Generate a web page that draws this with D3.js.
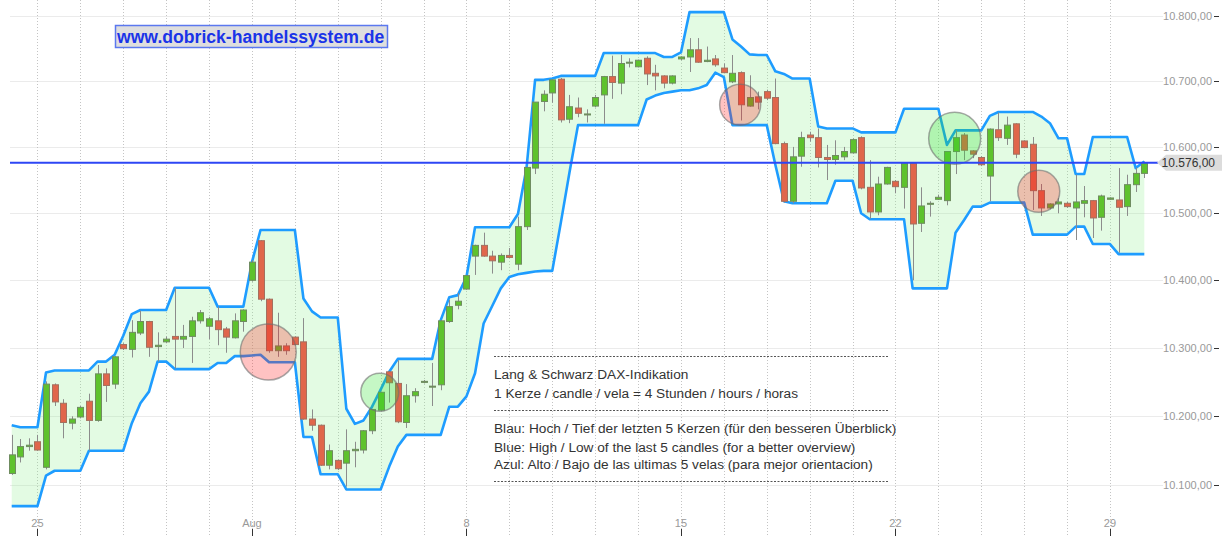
<!DOCTYPE html>
<html>
<head>
<meta charset="utf-8">
<script src="https://cdn.jsdelivr.net/npm/d3@7"></script>
<style>
body { margin: 0; background: #fff; }
svg { display: block; font-family: "Liberation Sans", Arial, sans-serif; }
</style>
</head>
<body>
<div id="chart"></div>
<script>
// 4h candles, Lang & Schwarz DAX indication (Jul 22 - Aug 29)
var open = [10117,10141,10156,10163,10126,10246,10219,10190,10199,10222,
  10194,10262,10247,10305,10298,10322,10339,10302,10309,10317,
  10313,10317,10340,10332,10340,10328,10315,10339,10400,10459,
  10372,10296,10303,10316,10309,10196,10187,10129,10136,10132,
  10150,10151,10179,10209,10265,10248,10191,10230,10250,10243,
  10246,10339,10363,10387,10436,10452,10436,10427,10437,10424,
  10480,10568,10669,10682,10703,10642,10659,10649,10662,10679,
  10707,10697,10728,10722,10735,10712,10708,10697,10734,10737,
  10748,10730,10734,10720,10699,10713,10662,10676,10684,10675,
  10605,10518,10586,10618,10614,10584,10581,10585,10591,10614,
  10539,10502,10544,10548,10539,10575,10485,10514,10521,10519,
  10593,10618,10594,10584,10556,10626,10613,10635,10609,10604,
  10534,10508,10514,10515,10508,10515,10519,10494,10521,10520,
  10510,10543,10560];
var high = [10173,10167,10168,10173,10251,10248,10225,10200,10215,10233,
  10275,10270,10288,10307,10341,10355,10340,10323,10317,10389,
  10334,10346,10356,10346,10361,10331,10351,10357,10430,10460,
  10373,10352,10307,10317,10344,10210,10188,10159,10137,10181,
  10163,10180,10210,10236,10266,10282,10247,10241,10253,10278,
  10341,10371,10381,10408,10453,10471,10444,10440,10448,10495,
  10570,10668,10686,10703,10705,10679,10675,10657,10679,10708,
  10739,10740,10735,10733,10738,10725,10709,10709,10738,10766,
  10766,10753,10740,10727,10740,10715,10709,10684,10687,10704,
  10608,10600,10623,10623,10628,10603,10610,10600,10613,10616,
  10580,10555,10570,10550,10576,10576,10539,10518,10528,10593,
  10625,10621,10595,10586,10628,10652,10646,10636,10610,10615,
  10544,10515,10523,10517,10558,10541,10520,10528,10524,10568,
  10558,10569,10578];
var low = [10115,10133,10150,10150,10123,10215,10168,10181,10197,10150,
  10192,10221,10240,10297,10286,10319,10287,10280,10307,10270,
  10300,10278,10336,10313,10304,10293,10314,10324,10398,10369,
  10293,10287,10290,10304,10195,10179,10128,10123,10122,10098,
  10126,10146,10174,10208,10220,10190,10183,10220,10248,10215,
  10238,10337,10357,10386,10408,10435,10410,10415,10433,10415,
  10475,10559,10654,10667,10637,10636,10645,10637,10660,10635,
  10673,10680,10721,10721,10694,10686,10689,10695,10732,10714,
  10728,10729,10722,10712,10697,10640,10661,10657,10671,10604,
  10516,10515,10570,10608,10569,10550,10573,10580,10590,10536,
  10492,10497,10543,10530,10507,10400,10472,10495,10520,10512,
  10559,10580,10583,10571,10518,10609,10603,10583,10598,10505,
  10496,10506,10500,10508,10460,10494,10463,10474,10520,10441,
  10496,10532,10553];
var close = [10144,10156,10158,10151,10247,10221,10191,10196,10213,10194,
  10262,10245,10287,10299,10323,10339,10301,10304,10313,10313,
  10317,10340,10352,10343,10327,10316,10340,10356,10427,10372,
  10296,10303,10296,10305,10196,10187,10129,10150,10124,10150,
  10152,10179,10210,10235,10249,10192,10230,10236,10251,10244,
  10340,10361,10369,10407,10452,10436,10429,10437,10434,10480,
  10569,10668,10680,10702,10641,10661,10651,10650,10675,10707,
  10698,10727,10729,10732,10711,10708,10697,10708,10737,10748,
  10729,10732,10725,10713,10712,10664,10675,10668,10674,10605,
  10518,10585,10614,10614,10584,10581,10587,10593,10611,10538,
  10502,10544,10569,10540,10575,10484,10511,10515,10524,10593,
  10614,10595,10589,10573,10627,10614,10633,10589,10599,10534,
  10508,10514,10517,10510,10517,10519,10493,10526,10523,10509,
  10543,10560,10576];

// blue channel: high / low of the last 5 candles, as drawn
var upper = [10187,10184,10184,10184,10264,10267,10267,10267,10267,10267,
  10280,10280,10290,10318,10350,10356,10356,10356,10356,10389,
  10389,10389,10389,10389,10361,10361,10361,10361,10427,10475,
  10475,10475,10475,10475,10373,10354,10345,10345,10345,10211,
  10189,10194,10214,10239,10265,10284,10284,10284,10284,10284,
  10341,10375,10378,10405,10479,10479,10479,10479,10479,10499,
  10568,10702,10702,10704,10708,10708,10708,10708,10708,10743,
  10743,10743,10743,10743,10743,10743,10737,10737,10744,10806,
  10806,10806,10806,10806,10764,10753,10741,10740,10740,10715,
  10711,10704,10704,10704,10631,10628,10628,10628,10628,10622,
  10622,10622,10622,10622,10658,10658,10658,10658,10658,10603,
  10625,10625,10625,10625,10647,10653,10653,10653,10653,10653,
  10646,10636,10613,10613,10559,10559,10615,10615,10615,10615,
  10615,10568,10578];
var lower = [10070,10070,10070,10070,10114,10121,10121,10121,10121,10150,
  10150,10150,10150,10150,10190,10219,10236,10280,10280,10269,
  10269,10269,10269,10269,10278,10278,10288,10288,10289,10290,
  10279,10279,10279,10279,10170,10170,10116,10116,10116,10094,
  10094,10094,10094,10094,10127,10156,10173,10173,10173,10173,
  10173,10214,10214,10229,10263,10336,10362,10388,10405,10409,
  10411,10413,10414,10414,10486,10561,10633,10633,10633,10633,
  10633,10633,10633,10633,10672,10678,10682,10684,10686,10686,
  10689,10694,10713,10706,10633,10633,10633,10633,10633,10573,
  10518,10515,10515,10515,10515,10515,10549,10549,10549,10500,
  10491,10491,10491,10491,10491,10388,10388,10388,10388,10388,
  10471,10490,10510,10510,10516,10516,10516,10516,10516,10468,
  10468,10468,10468,10468,10480,10480,10454,10454,10454,10439,
  10439,10439,10439];

var lastPrice = 10576;
var priceTicks = [10100, 10200, 10300, 10400, 10500, 10600, 10700, 10800];
var dateTickIndex = [3, 28, 53, 78, 103, 128];
var dateTickLabels = ['25', 'Aug', '8', '15', '22', '29'];

// signal circles (candle index, price)
var markerIndex = [29.9, 42.9, 84.9, 109.9, 119.7];
var markerPrice = [10294, 10235, 10664, 10613, 10533];
var markerType = ['sell', 'buy', 'sell', 'buy', 'sell'];
var markerRadius = [28, 19, 20.5, 26, 21];

var notes = ['Lang & Schwarz DAX-Indikation',
  '1 Kerze / candle / vela = 4 Stunden / hours / horas',
  'Blau: Hoch / Tief der letzten 5 Kerzen (für den besseren Überblick)',
  'Blue: High / Low of the last 5 candles (for a better overview)',
  'Azul: Alto / Bajo de las ultimas 5 velas (para mejor orientacion)'];

var w = 1226;
var h = 536;
var plot = {left: 10, right: 1163, top: 0, bottom: 516};

var de = d3.formatLocale({decimal: ',', thousands: '.', grouping: [3], currency: ['', '']});
var fmt = de.format(',.2f');

var x = d3.scaleLinear().domain([0, 132]).range([11.7, 1144.3]);
var y = d3.scaleLog().domain([10100, 10800]).range([485.3, 16]);

var svg = d3.select('#chart').append('svg')
  .attr('width', w)
  .attr('height', h);

// horizontal grid
svg.append('g').selectAll('line')
  .data(priceTicks)
  .enter().append('line')
  .attr('x1', plot.left).attr('x2', plot.right)
  .attr('y1', d => Math.round(y(d)) + 0.5).attr('y2', d => Math.round(y(d)) + 0.5)
  .attr('stroke', '#ebebeb');

// day grid (dotted)
svg.append('g').selectAll('line')
  .data(d3.range(3, 133, 5))
  .enter().append('line')
  .attr('x1', d => Math.round(x(d)) + 0.5).attr('x2', d => Math.round(x(d)) + 0.5)
  .attr('y1', 0).attr('y2', h)
  .attr('stroke', '#c4c4c4')
  .attr('stroke-dasharray', '1,2');

// channel
var idx = d3.range(open.length);
svg.append('path')
  .datum(idx)
  .attr('d', d3.area().x(i => x(i)).y0(i => y(lower[i])).y1(i => y(upper[i])))
  .attr('fill', 'rgba(140,240,140,0.24)');

var line = d3.line().x(i => x(i));
svg.append('path')
  .datum(idx)
  .attr('d', line.y(i => y(upper[i])))
  .attr('fill', 'none').attr('stroke', '#1e9cff').attr('stroke-width', 2.6)
  .attr('stroke-linejoin', 'round');
svg.append('path')
  .datum(idx)
  .attr('d', line.y(i => y(lower[i])))
  .attr('fill', 'none').attr('stroke', '#1e9cff').attr('stroke-width', 2.6)
  .attr('stroke-linejoin', 'round');

// candles
var candle = svg.append('g').selectAll('g')
  .data(idx)
  .enter().append('g');

candle.append('line')
  .attr('x1', i => Math.round(x(i)) + 0.5).attr('x2', i => Math.round(x(i)) + 0.5)
  .attr('y1', i => y(high[i])).attr('y2', i => y(low[i]))
  .attr('stroke', '#8c8c8c');

candle.append('rect')
  .attr('x', i => Math.round(x(i)) - 2.5)
  .attr('width', 6)
  .attr('y', i => y(Math.max(open[i], close[i])))
  .attr('height', i => Math.max(1, y(Math.min(open[i], close[i])) - y(Math.max(open[i], close[i]))))
  .attr('fill', i => close[i] >= open[i] ? '#5ec22d' : '#e0664b')
  .attr('stroke', i => close[i] >= open[i] ? '#6f8c60' : '#a3705f')
  .attr('stroke-width', 1);

// signal circles
svg.append('g').selectAll('circle')
  .data(markerIndex)
  .enter().append('circle')
  .attr('cx', (d, k) => x(d))
  .attr('cy', (d, k) => y(markerPrice[k]))
  .attr('r', (d, k) => markerRadius[k])
  .attr('fill', (d, k) => markerType[k] === 'buy' ? 'rgba(40,225,40,0.27)' : 'rgba(255,20,20,0.26)')
  .attr('stroke', 'rgba(110,110,110,0.6)')
  .attr('stroke-width', 1.5);

// last price line
svg.append('line')
  .attr('x1', plot.left).attr('x2', 1158)
  .attr('y1', y(lastPrice)).attr('y2', y(lastPrice))
  .attr('stroke', '#2d46f5').attr('stroke-width', 2);

// right axis
var yAxis = svg.append('g');
yAxis.selectAll('text')
  .data(priceTicks)
  .enter().append('text')
  .attr('x', 1212)
  .attr('y', d => y(d) + 4)
  .attr('text-anchor', 'end')
  .attr('font-size', 11)
  .attr('fill', '#999')
  .text(d => fmt(d));
yAxis.selectAll('line')
  .data(priceTicks)
  .enter().append('line')
  .attr('x1', 1214).attr('x2', 1219)
  .attr('y1', d => Math.round(y(d)) + 0.5).attr('y2', d => Math.round(y(d)) + 0.5)
  .attr('stroke', '#333');

// last price tag
var ly = y(lastPrice);
svg.append('path')
  .attr('d', 'M1157,' + ly + 'L1166,' + (ly - 8) + 'H1222V' + (ly + 8) + 'H1166Z')
  .attr('fill', '#dcdcdc');
svg.append('text')
  .attr('x', 1215).attr('y', ly + 4.5)
  .attr('text-anchor', 'end')
  .attr('font-size', 12)
  .attr('fill', '#333')
  .text(fmt(lastPrice));

// bottom axis
var xAxis = svg.append('g');
xAxis.selectAll('text')
  .data(dateTickIndex)
  .enter().append('text')
  .attr('x', d => x(d))
  .attr('y', 527)
  .attr('text-anchor', 'middle')
  .attr('font-size', 11)
  .attr('fill', '#999')
  .text((d, k) => dateTickLabels[k]);
xAxis.selectAll('line')
  .data(dateTickIndex)
  .enter().append('line')
  .attr('x1', d => Math.round(x(d)) + 0.5).attr('x2', d => Math.round(x(d)) + 0.5)
  .attr('y1', 529).attr('y2', h)
  .attr('stroke', '#333');

// logo
svg.append('rect')
  .attr('x', 115.5).attr('y', 25.5).attr('width', 272).attr('height', 22)
  .attr('fill', '#dedede').attr('stroke', '#5b78ef').attr('stroke-width', 1.5);
svg.append('text')
  .attr('x', 117).attr('y', 43)
  .attr('font-size', 17.6).attr('font-weight', 'bold')
  .attr('fill', '#1a34e8')
  .text('www.dobrick-handelssystem.de');

// info text
var info = svg.append('g');
[356.5, 410.5, 481.5].forEach(function(yy) {
  info.append('line')
    .attr('x1', 494).attr('x2', 888).attr('y1', yy).attr('y2', yy)
    .attr('stroke', '#555').attr('stroke-dasharray', '2,1.5');
});
var noteY = [379, 397.5, 433, 451.5, 469];
info.selectAll('text')
  .data(notes)
  .enter().append('text')
  .attr('x', 494)
  .attr('y', (d, k) => noteY[k])
  .attr('font-size', 13.66)
  .attr('fill', '#333')
  .text(d => d);
</script>
</body>
</html>
